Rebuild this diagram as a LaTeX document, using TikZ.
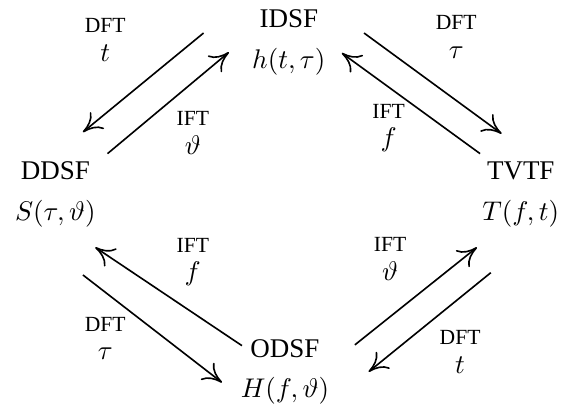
\documentclass[tikz,border=0pt]{standalone}
\usepackage{amsmath,amssymb}
\usepackage[no-math]{fontspec}
\setmainfont{Liberation Serif}
\usetikzlibrary{arrows.meta}

\begin{document}
\begin{tikzpicture}[
    sig/.style={align=center, inner sep=0pt},
    ft/.style={align=center, inner sep=0pt, font=\fontsize{8}{10.5}\selectfont},
    arrow/.style={-{Computer Modern Rightarrow[length=7pt, width=8pt]}, line width=0.6pt}
]
\useasboundingbox (0,0) rectangle (7.33,-5.30);

% Spreading functions
\node[sig] (IDSF) at (3.76,-0.55) {IDSF\\[3pt]$h(t,\tau)$};
\node[sig] (DDSF) at (0.72,-2.53) {DDSF\\[3pt]$S(\tau,\vartheta)$};
\node[sig] (TVTF) at (6.78,-2.53) {TVTF\\[3pt]$T(f,t)$};
\node[sig] (ODSF) at (3.71,-4.84) {ODSF\\[3pt]$H(f,\vartheta)$};

% Arrows
\draw[arrow] ([shift={(-1.11,0.12)}]IDSF.center) -- ([shift={(0.36,0.81)}]DDSF.center);
\draw[arrow] ([shift={(0.68,0.53)}]DDSF.center) -- ([shift={(-0.78,-0.13)}]IDSF.center);
\draw[arrow] ([shift={(0.98,0.12)}]IDSF.center) -- ([shift={(-0.25,0.79)}]TVTF.center);
\draw[arrow] ([shift={(-0.53,0.53)}]TVTF.center) -- ([shift={(0.69,-0.14)}]IDSF.center);
\draw[arrow] ([shift={(-0.56,0.34)}]ODSF.center) -- ([shift={(0.52,-0.69)}]DDSF.center);
\draw[arrow] ([shift={(0.36,-1.05)}]DDSF.center) -- ([shift={(-0.82,-0.14)}]ODSF.center);
\draw[arrow] ([shift={(0.91,0.35)}]ODSF.center) -- ([shift={(-0.57,-0.69)}]TVTF.center);
\draw[arrow] ([shift={(-0.39,-1.02)}]TVTF.center) -- ([shift={(1.09,0)}]ODSF.center);

% Transform labels
\node[ft] (tlD) at (1.37,-0.52) {DFT\\{\normalsize$t$}};
\node[ft] (tlI) at (2.51,-1.73) {IFT\\{\normalsize$\vartheta$}};
\node[ft] (trD) at (5.94,-0.48) {DFT\\{\normalsize$\tau$}};
\node[ft] (trI) at (5.06,-1.67) {IFT\\{\normalsize$f$}};
\node[ft] (blI) at (2.51,-3.41) {IFT\\{\normalsize$f$}};
\node[ft] (blD) at (1.37,-4.41) {DFT\\{\normalsize$\tau$}};
\node[ft] (brI) at (5.08,-3.37) {IFT\\{\normalsize$\vartheta$}};
\node[ft] (brD) at (5.99,-4.58) {DFT\\{\normalsize$t$}};

\end{tikzpicture}
\end{document}
